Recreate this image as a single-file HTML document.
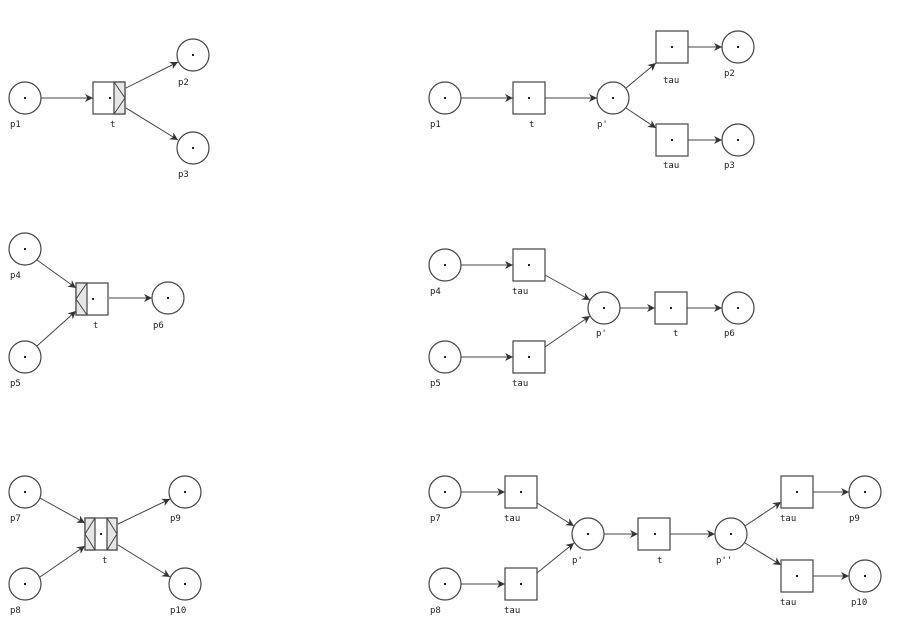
<!DOCTYPE html>
<html><head><meta charset="utf-8"><style>
html,body{margin:0;padding:0;background:#fff;}
svg{display:block;}
text{font-family:"DejaVu Sans Mono","Liberation Mono",monospace;font-size:9px;fill:#222;}
circle,rect{fill:#fff;stroke:#444;stroke-width:1.2;}
line{stroke:#444;stroke-width:1;}
.d{fill:#222;stroke:none;}
.sh{fill:#e6e6e6;stroke:#444;stroke-width:1.2;}
</style></head><body>
<svg width="900" height="626" viewBox="0 0 900 626" xmlns="http://www.w3.org/2000/svg">
<defs><marker id="a" viewBox="0 0 10 10" refX="10" refY="5" markerWidth="8" markerHeight="8" orient="auto" markerUnits="userSpaceOnUse"><path d="M0,0 L10,5 L0,10 L3,5 Z" fill="#333"/></marker></defs>
<g marker-end="url(#a)">
<!-- panel 1 -->
<line x1="41" y1="98" x2="93" y2="98"/>
<line x1="126" y1="88" x2="178" y2="62"/>
<line x1="126" y1="108" x2="178" y2="140"/>
<!-- panel 2 -->
<line x1="37" y1="260" x2="76" y2="288"/>
<line x1="37" y1="346" x2="76" y2="311"/>
<line x1="109" y1="298" x2="152" y2="298"/>
<!-- panel 3 -->
<line x1="40" y1="498" x2="85" y2="523"/>
<line x1="40" y1="577" x2="85" y2="546"/>
<line x1="118" y1="524" x2="170" y2="499"/>
<line x1="118" y1="545" x2="170" y2="577"/>
<!-- right 1 -->
<line x1="461" y1="98" x2="513" y2="98"/>
<line x1="545" y1="98" x2="597" y2="98"/>
<line x1="626" y1="88" x2="656" y2="63"/>
<line x1="626" y1="108" x2="656" y2="128"/>
<line x1="688" y1="47" x2="722" y2="47"/>
<line x1="688" y1="140" x2="722" y2="140"/>
<!-- right 2 -->
<line x1="461" y1="265" x2="513" y2="265"/>
<line x1="461" y1="357" x2="513" y2="357"/>
<line x1="545" y1="275" x2="590" y2="300"/>
<line x1="545" y1="347" x2="590" y2="316"/>
<line x1="620" y1="308" x2="655" y2="308"/>
<line x1="687" y1="308" x2="722" y2="308"/>
<!-- right 3 -->
<line x1="461" y1="492" x2="505" y2="492"/>
<line x1="461" y1="584" x2="505" y2="584"/>
<line x1="537" y1="503" x2="574" y2="526"/>
<line x1="537" y1="573" x2="574" y2="543"/>
<line x1="604" y1="534" x2="638" y2="534"/>
<line x1="670" y1="534" x2="715" y2="534"/>
<line x1="745" y1="526" x2="781" y2="502"/>
<line x1="745" y1="543" x2="781" y2="565"/>
<line x1="813" y1="492" x2="849" y2="492"/>
<line x1="813" y1="576" x2="849" y2="576"/>
</g>
<!-- places -->
<g>
<circle cx="25" cy="98" r="16"/><circle cx="193" cy="55" r="16"/><circle cx="193" cy="148" r="16"/>
<circle cx="25" cy="249" r="16"/><circle cx="25" cy="357" r="16"/><circle cx="168" cy="298" r="16"/>
<circle cx="25" cy="492" r="16"/><circle cx="25" cy="584" r="16"/><circle cx="185" cy="492" r="16"/><circle cx="185" cy="584" r="16"/>
<circle cx="445" cy="98" r="16"/><circle cx="613" cy="98" r="16"/><circle cx="738" cy="47" r="16"/><circle cx="738" cy="140" r="16"/>
<circle cx="445" cy="265" r="16"/><circle cx="445" cy="357" r="16"/><circle cx="604" cy="308" r="16"/><circle cx="738" cy="308" r="16"/>
<circle cx="445" cy="492" r="16"/><circle cx="445" cy="584" r="16"/><circle cx="588" cy="534" r="16"/><circle cx="731" cy="534" r="16"/><circle cx="865" cy="492" r="16"/><circle cx="865" cy="576" r="16"/>
</g>
<!-- transitions -->
<rect x="93" y="82" width="32" height="32"/>
<rect class="sh" x="114" y="82" width="11" height="32"/><path d="M114,82 L125,98 L114,114" fill="none" stroke="#444"/>
<rect x="76" y="283" width="32" height="32"/>
<rect class="sh" x="76" y="283" width="11" height="32"/><path d="M87,283 L76,299 L87,315" fill="none" stroke="#444"/>
<rect x="85" y="518" width="32" height="32"/>
<rect class="sh" x="85" y="518" width="10" height="32"/><path d="M95,518 L85,534 L95,550" fill="none" stroke="#444"/>
<rect class="sh" x="107" y="518" width="10" height="32"/><path d="M107,518 L117,534 L107,550" fill="none" stroke="#444"/>
<rect x="513" y="82" width="32" height="32"/><rect x="656" y="31" width="32" height="32"/><rect x="656" y="124" width="32" height="32"/>
<rect x="513" y="249" width="32" height="32"/><rect x="513" y="341" width="32" height="32"/><rect x="655" y="292" width="32" height="32"/>
<rect x="505" y="476" width="32" height="32"/><rect x="505" y="568" width="32" height="32"/><rect x="638" y="518" width="32" height="32"/><rect x="781" y="476" width="32" height="32"/><rect x="781" y="560" width="32" height="32"/>
<!-- dots -->
<g class="d">
<rect class="d" x="24" y="97" width="2" height="2"/><rect class="d" x="192" y="54" width="2" height="2"/><rect class="d" x="192" y="147" width="2" height="2"/><rect class="d" x="109" y="97" width="2" height="2"/>
<rect class="d" x="24" y="248" width="2" height="2"/><rect class="d" x="24" y="356" width="2" height="2"/><rect class="d" x="167" y="297" width="2" height="2"/><rect class="d" x="92" y="298" width="2" height="2"/>
<rect class="d" x="24" y="491" width="2" height="2"/><rect class="d" x="24" y="583" width="2" height="2"/><rect class="d" x="184" y="491" width="2" height="2"/><rect class="d" x="184" y="583" width="2" height="2"/><rect class="d" x="100" y="533" width="2" height="2"/>
<rect class="d" x="444" y="97" width="2" height="2"/><rect class="d" x="528" y="97" width="2" height="2"/><rect class="d" x="612" y="97" width="2" height="2"/><rect class="d" x="671" y="46" width="2" height="2"/><rect class="d" x="671" y="139" width="2" height="2"/><rect class="d" x="737" y="46" width="2" height="2"/><rect class="d" x="737" y="139" width="2" height="2"/>
<rect class="d" x="444" y="264" width="2" height="2"/><rect class="d" x="444" y="356" width="2" height="2"/><rect class="d" x="528" y="264" width="2" height="2"/><rect class="d" x="528" y="356" width="2" height="2"/><rect class="d" x="603" y="307" width="2" height="2"/><rect class="d" x="670" y="307" width="2" height="2"/><rect class="d" x="737" y="307" width="2" height="2"/>
<rect class="d" x="444" y="491" width="2" height="2"/><rect class="d" x="444" y="583" width="2" height="2"/><rect class="d" x="520" y="491" width="2" height="2"/><rect class="d" x="520" y="583" width="2" height="2"/><rect class="d" x="587" y="533" width="2" height="2"/><rect class="d" x="654" y="533" width="2" height="2"/><rect class="d" x="730" y="533" width="2" height="2"/><rect class="d" x="796" y="491" width="2" height="2"/><rect class="d" x="796" y="575" width="2" height="2"/><rect class="d" x="864" y="491" width="2" height="2"/><rect class="d" x="864" y="575" width="2" height="2"/>
</g>
<!-- labels -->
<text x="10" y="127">p1</text><text x="110" y="127">t</text><text x="178" y="85">p2</text><text x="178" y="177">p3</text>
<text x="10" y="278">p4</text><text x="10" y="386">p5</text><text x="93" y="328">t</text><text x="153" y="328">p6</text>
<text x="10" y="521">p7</text><text x="10" y="613">p8</text><text x="102" y="563">t</text><text x="170" y="521">p9</text><text x="170" y="613">p10</text>
<text x="430" y="127">p1</text><text x="529" y="127">t</text><text x="597" y="127">p'</text><text x="663" y="83">tau</text><text x="663" y="168">tau</text><text x="724" y="76">p2</text><text x="724" y="168">p3</text>
<text x="430" y="294">p4</text><text x="430" y="386">p5</text><text x="512" y="294">tau</text><text x="512" y="386">tau</text><text x="596" y="336">p'</text><text x="673" y="336">t</text><text x="724" y="336">p6</text>
<text x="430" y="521">p7</text><text x="430" y="613">p8</text><text x="504" y="521">tau</text><text x="504" y="613">tau</text><text x="572" y="563">p'</text><text x="657" y="563">t</text><text x="716" y="563">p''</text><text x="780" y="521">tau</text><text x="780" y="605">tau</text><text x="849" y="521">p9</text><text x="851" y="605">p10</text>
</svg>
</body></html>
